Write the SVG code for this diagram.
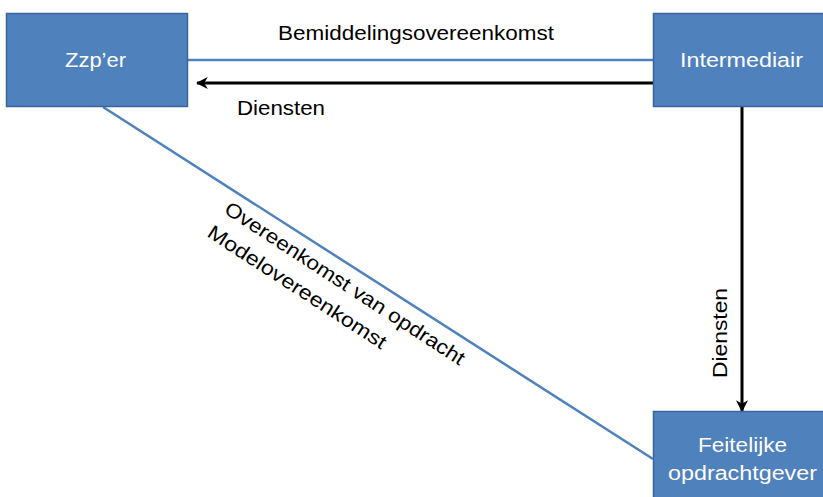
<svg xmlns="http://www.w3.org/2000/svg" width="823" height="497" viewBox="0 0 823 497">
<style>
.box{fill:#4F81BD;stroke:#3A659A;stroke-width:1.5}
.wt{fill:#FFFFFF;font-family:"Liberation Sans",Arial,sans-serif;font-size:20px;text-anchor:middle}
.bt{fill:#000000;font-family:"Liberation Sans",Arial,sans-serif;font-size:20px;text-anchor:middle}
.blue{stroke:#4F81BD;stroke-width:2.5;fill:none}
.blk{stroke:#000000;stroke-width:3;fill:none}
</style>
<defs>
<marker id="ah" viewBox="0 0 10 10" refX="9" refY="5" markerWidth="4" markerHeight="4" orient="auto" markerUnits="strokeWidth">
<path d="M0,0 L10,5 L0,10 L3,5 Z" fill="#000000"/>
</marker>
</defs>
<rect width="823" height="497" fill="#FFFFFF"/>
<g id="connectors">
<line class="blue" x1="188" y1="60" x2="653" y2="60"/>
<line class="blk" x1="653" y1="83" x2="197" y2="83" marker-end="url(#ah)"/>
<line class="blk" x1="742" y1="107" x2="742" y2="411" marker-end="url(#ah)"/>
<line class="blue" x1="103" y1="107" x2="653" y2="459"/>
<text class="bt" x="416" y="40" textLength="276" lengthAdjust="spacingAndGlyphs">Bemiddelingsovereenkomst</text>
<text class="bt" x="281" y="115" textLength="88" lengthAdjust="spacingAndGlyphs">Diensten</text>
<text class="bt" transform="translate(727,333) rotate(-90)" textLength="90" lengthAdjust="spacingAndGlyphs">Diensten</text>
<g transform="translate(103,107) rotate(33)">
<text class="bt" x="299" y="23" textLength="282" lengthAdjust="spacingAndGlyphs">Overeenkomst van opdracht</text>
<text class="bt" x="261" y="52" textLength="209" lengthAdjust="spacingAndGlyphs">Modelovereenkomst</text>
</g>
</g>
<g id="zzper">
<rect class="box" x="6.5" y="13.5" width="181" height="93"/>
<text class="wt" x="95.5" y="67" textLength="61" lengthAdjust="spacingAndGlyphs">Zzp’er</text>
</g>
<g id="intermediair">
<rect class="box" x="653.5" y="13.5" width="181" height="93"/>
<text class="wt" x="741.5" y="67" textLength="123" lengthAdjust="spacingAndGlyphs">Intermediair</text>
</g>
<g id="feitelijke">
<rect class="box" x="653.5" y="411.5" width="181" height="93"/>
<text class="wt" x="742.5" y="452" textLength="89" lengthAdjust="spacingAndGlyphs">Feitelijke</text>
<text class="wt" x="742.5" y="480" textLength="149" lengthAdjust="spacingAndGlyphs">opdrachtgever</text>
</g>
</svg>
